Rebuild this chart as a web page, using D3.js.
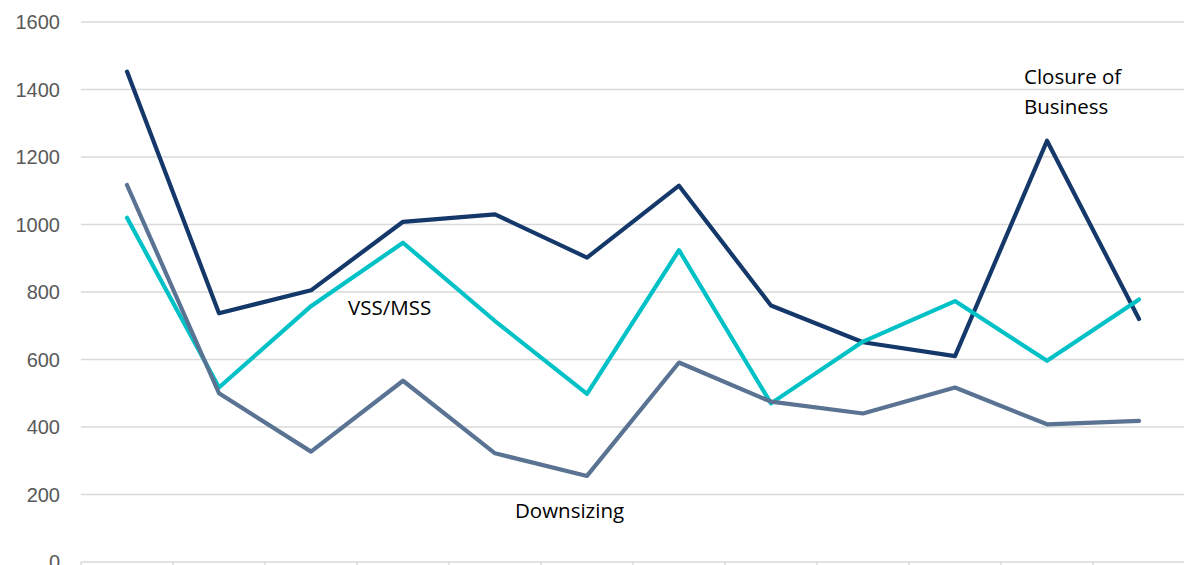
<!DOCTYPE html>
<html>
<head>
<meta charset="utf-8">
<script src="https://cdn.jsdelivr.net/npm/d3@7"></script>
<style>
  body { margin: 0; background: #fff; overflow: hidden; }
  svg { display: block; }
</style>
</head>
<body>
<div class="chart"></div>
<script>
// data (x labels are cut off below the frame)
const categories = ['1','2','3','4','5','6','7','8','9','10','11','12'];
const closure    = [1453, 737, 805, 1008, 1030, 902, 1115, 760, 651, 610, 1248, 720];
const vssMss     = [1020, 517, 758, 946, 714, 498, 924, 470, 653, 773, 596, 778];
const downsizing = [1117, 500, 327, 537, 322, 255, 591, 475, 440, 517, 408, 418];
const yTicks     = [0, 200, 400, 600, 800, 1000, 1200, 1400, 1600];

const series = [
  {name: 'Closure of Business', values: closure,    color: '#14386a'},
  {name: 'VSS/MSS',             values: vssMss,     color: '#00c1c6'},
  {name: 'Downsizing',          values: downsizing, color: '#5a7393'}
];

const W = 1184, H = 565;
const left = 81, bandW = 92;

const x = d3.scaleBand().domain(categories).range([left, left + bandW * categories.length]);
const y = d3.scaleLinear().domain([0, 1600]).range([562, 22]);

const svg = d3.select('.chart').append('svg')
  .attr('width', W).attr('height', H);

// gridlines
svg.append('g')
  .selectAll('line')
  .data(yTicks.filter(d => d > 0))
  .enter().append('line')
  .attr('x1', left).attr('x2', left + bandW * categories.length)
  .attr('y1', d => y(d)).attr('y2', d => y(d))
  .attr('stroke', '#d9d9d9').attr('stroke-width', 1.5);

// y labels
svg.append('g')
  .selectAll('text')
  .data(yTicks)
  .enter().append('text')
  .attr('x', 60).attr('y', d => y(d) + 7)
  .attr('text-anchor', 'end')
  .attr('font-family', 'Liberation Sans, Arial, sans-serif')
  .attr('font-size', 20)
  .attr('fill', '#595959')
  .text(d => d);

// x axis with ticks between categories
const xAxis = svg.append('g').attr('transform', `translate(0, ${y(0)})`);
xAxis.append('line')
  .attr('x1', left).attr('x2', left + bandW * categories.length)
  .attr('stroke', '#d9d9d9').attr('stroke-width', 1.5);
xAxis.selectAll('.tk')
  .data(categories.concat(['end']))
  .enter().append('line')
  .attr('class', 'tk')
  .attr('x1', (d, i) => left + i * bandW).attr('x2', (d, i) => left + i * bandW)
  .attr('y1', 0).attr('y2', 6)
  .attr('stroke', '#d9d9d9').attr('stroke-width', 1.5);

// lines
const line = d3.line()
  .x((d, i) => x(categories[i]) + x.bandwidth() / 2)
  .y(d => y(d));

svg.append('g')
  .selectAll('path')
  .data(series)
  .enter().append('path')
  .attr('d', d => line(d.values))
  .attr('fill', 'none')
  .attr('stroke', d => d.color)
  .attr('stroke-width', 4.2)
  .attr('stroke-linejoin', 'round')
  .attr('stroke-linecap', 'round');

// annotations
const notes = [
  {lines: ['VSS/MSS'], x: 348, y: 315},
  {lines: ['Downsizing'], x: 515, y: 518},
  {lines: ['Closure of', 'Business'], x: 1024, y: 84}
];
notes.forEach(n => {
  const t = svg.append('text')
    .attr('x', n.x).attr('y', n.y)
    .attr('font-family', 'Open Sans, sans-serif')
    .attr('font-size', 20.5)
    .attr('fill', '#000');
  n.lines.forEach((s, i) => {
    t.append('tspan').attr('x', n.x).attr('dy', i ? 30 : 0).text(s);
  });
});
</script>
</body>
</html>
